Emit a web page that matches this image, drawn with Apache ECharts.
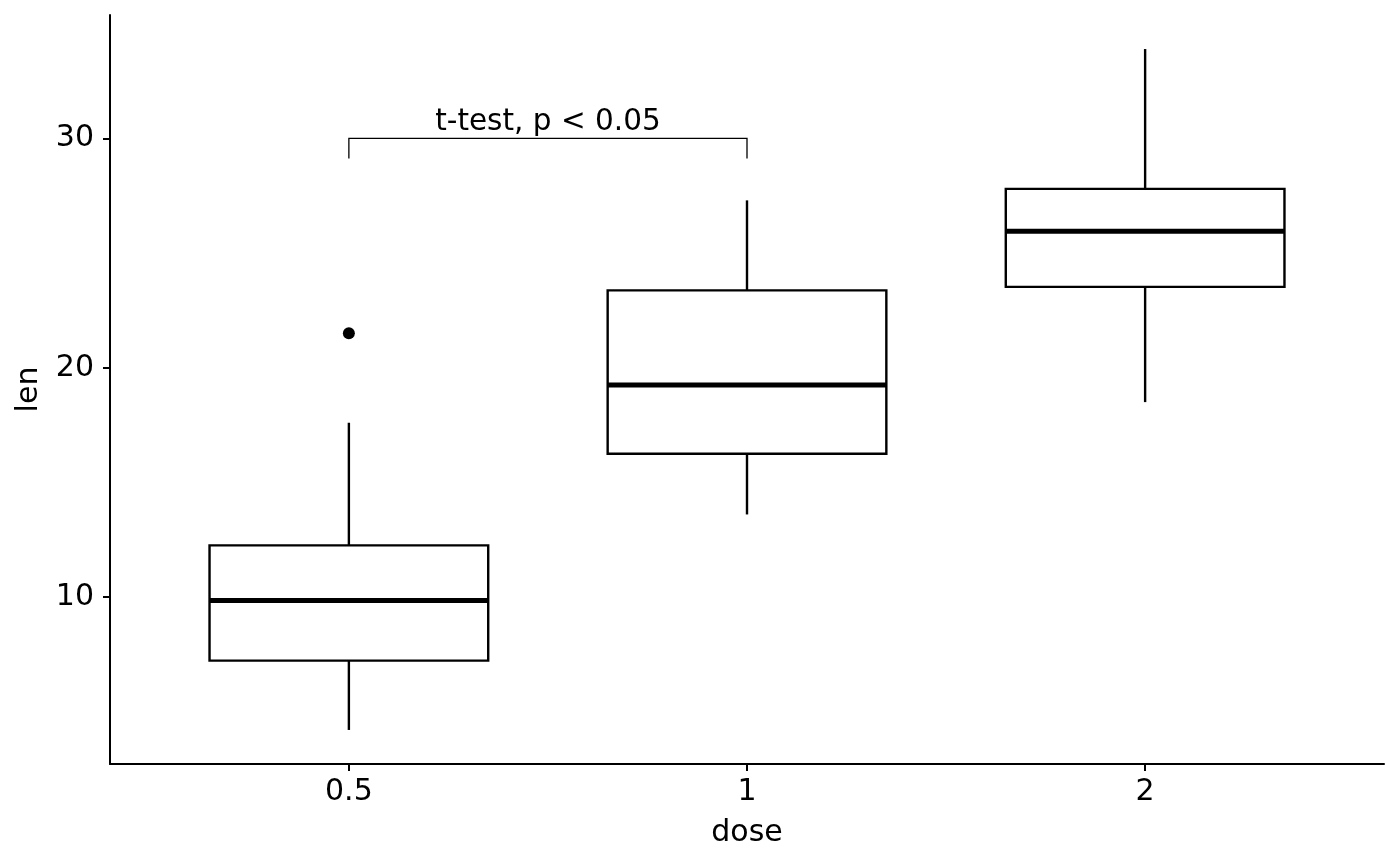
<!DOCTYPE html>
<html>
<head>
<meta charset="utf-8">
<script src="https://cdn.jsdelivr.net/npm/echarts@6/dist/echarts.min.js"></script>
<style>
  html, body { margin: 0; padding: 0; background: #fff; }
  #chart { width: 1400px; height: 866px; }
</style>
</head>
<body>
<div id="chart"></div>
<script>
// ToothGrowth len by dose
var doseLabels = ['0.5', '1', '2'];
var whiskerLow = [4.2, 13.6, 18.5];
var q1 = [7.225, 16.25, 23.525];
var median = [9.85, 19.25, 25.95];
var q3 = [12.25, 23.375, 27.8];
var whiskerHigh = [17.6, 27.3, 33.9];
var outliers = [[0, 21.5]];
var yTicks = [10, 20, 30];
// comparison bracket: groups, height, tip end, label
var bracketGroups = [0, 1];
var bracketY = 30;
var bracketTip = 29.13;
var bracketLabel = 't-test, p < 0.05';

var FONT = 'DejaVu Sans';
var boxWidth = 0.7;

var boxData = doseLabels.map(function (d, i) {
    return [i, whiskerLow[i], q1[i], median[i], q3[i], whiskerHigh[i]];
});

var myChart = echarts.init(document.getElementById('chart'), null, { renderer: 'canvas' });

var option = {
    backgroundColor: '#ffffff',
    animation: false,
    grid: { left: 110, right: 16, top: 15, bottom: 102, containLabel: false },
    xAxis: {
        type: 'value',
        min: -0.6,
        max: 2.6,
        name: 'dose',
        nameLocation: 'middle',
        nameGap: 54,
        nameTextStyle: { fontFamily: FONT, fontSize: 30, color: '#000' },
        axisLine: { show: true, onZero: false, lineStyle: { color: '#000', width: 2 } },
        axisTick: { show: true, length: 7, customValues: [0, 1, 2], lineStyle: { color: '#000', width: 2 } },
        axisLabel: {
            customValues: [0, 1, 2],
            margin: 13,
            fontFamily: FONT, fontSize: 30, color: '#000',
            formatter: function (v) { return doseLabels[Math.round(v)]; }
        },
        splitLine: { show: false }
    },
    yAxis: {
        type: 'value',
        min: 2.715,
        max: 35.385,
        name: 'len',
        nameLocation: 'middle',
        nameGap: 66,
        nameRotate: 90,
        nameTextStyle: { fontFamily: FONT, fontSize: 30, color: '#000' },
        axisLine: { show: true, onZero: false, lineStyle: { color: '#000', width: 2 } },
        axisTick: { show: true, length: 7, customValues: yTicks, lineStyle: { color: '#000', width: 2 } },
        axisLabel: {
            customValues: yTicks,
            margin: 16,
            fontFamily: FONT, fontSize: 30, color: '#000'
        },
        splitLine: { show: false }
    },
    series: [
        {
            type: 'custom',
            data: boxData,
            encode: { x: 0, y: [1, 2, 3, 4, 5] },
            renderItem: function (params, api) {
                var x = api.value(0);
                var left = api.coord([x - boxWidth / 2, api.value(2)]);
                var right = api.coord([x + boxWidth / 2, api.value(4)]);
                var pLow = api.coord([x, api.value(1)]);
                var pQ1 = api.coord([x, api.value(2)]);
                var pQ3 = api.coord([x, api.value(4)]);
                var pHigh = api.coord([x, api.value(5)]);
                var medL = api.coord([x - boxWidth / 2, api.value(3)]);
                var medR = api.coord([x + boxWidth / 2, api.value(3)]);
                var stroke = { stroke: '#000', lineWidth: 2.4, fill: null };
                return {
                    type: 'group',
                    children: [
                        { type: 'line', shape: { x1: pLow[0], y1: pLow[1], x2: pQ1[0], y2: pQ1[1] }, style: stroke },
                        { type: 'line', shape: { x1: pQ3[0], y1: pQ3[1], x2: pHigh[0], y2: pHigh[1] }, style: stroke },
                        {
                            type: 'rect',
                            shape: { x: left[0], y: right[1], width: right[0] - left[0], height: left[1] - right[1] },
                            style: { stroke: '#000', lineWidth: 2.4, fill: '#fff' }
                        },
                        { type: 'line', shape: { x1: medL[0], y1: medL[1], x2: medR[0], y2: medR[1] }, style: { stroke: '#000', lineWidth: 5 } }
                    ]
                };
            },
            z: 2
        },
        {
            type: 'scatter',
            data: outliers,
            symbol: 'circle',
            symbolSize: 12,
            itemStyle: { color: '#000', opacity: 1 },
            z: 3
        },
        {
            type: 'custom',
            data: [[bracketGroups[0], bracketGroups[1], bracketY, bracketTip]],
            renderItem: function (params, api) {
                var a = api.coord([api.value(0), api.value(3)]);
                var b = api.coord([api.value(0), api.value(2)]);
                var c = api.coord([api.value(1), api.value(2)]);
                var d = api.coord([api.value(1), api.value(3)]);
                return {
                    type: 'group',
                    children: [
                        {
                            type: 'polyline',
                            shape: { points: [a, b, c, d] },
                            style: { stroke: '#000', lineWidth: 1.3, fill: null }
                        },
                        {
                            type: 'text',
                            x: (b[0] + c[0]) / 2,
                            y: b[1] - 1,
                            style: {
                                text: bracketLabel,
                                fontFamily: FONT,
                                fontSize: 29.5,
                                fill: '#000',
                                align: 'center',
                                verticalAlign: 'bottom'
                            }
                        }
                    ]
                };
            },
            z: 4
        }
    ]
};

myChart.setOption(option);
</script>
</body>
</html>
